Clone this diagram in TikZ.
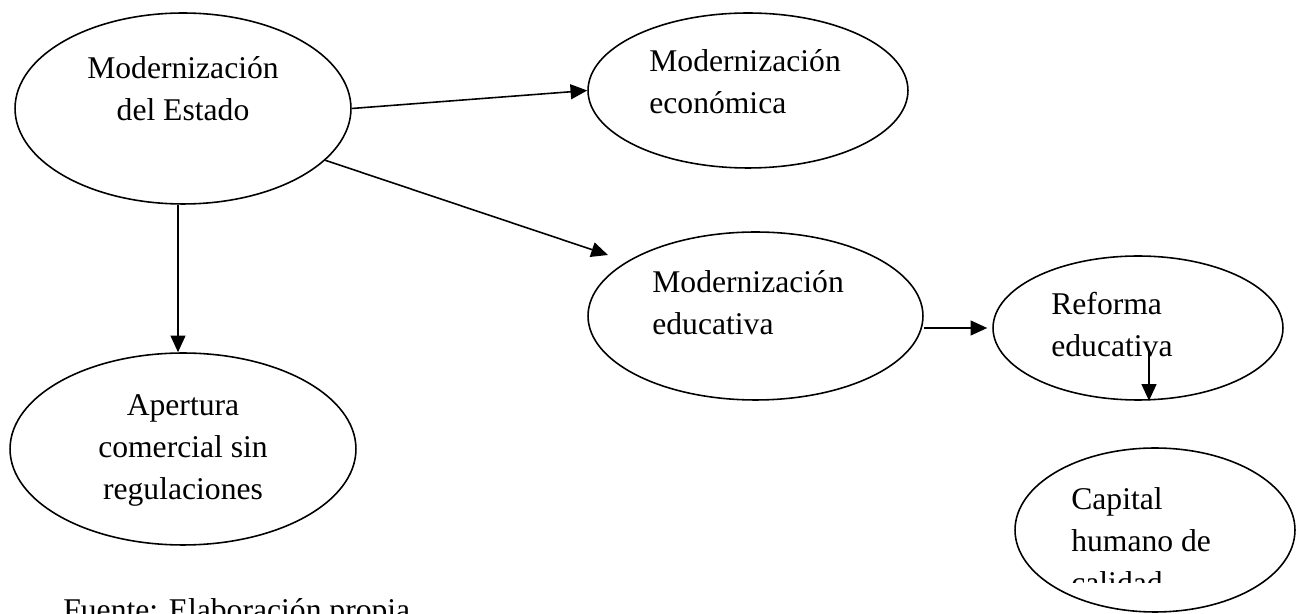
\documentclass[tikz,border=0pt]{standalone}
\usepackage{fontspec}
\setmainfont{Liberation Serif}
\usetikzlibrary{shapes,arrows.meta,positioning}

\begin{document}
\begin{tikzpicture}[x=0.02cm, y=-0.02cm]
    \tikzstyle{elipse} = [ellipse, draw, line width=0.9pt, inner sep=0pt]
    \tikzstyle{texto} = [inner sep=0pt, font=\fontsize{18}{24}\selectfont]
    \tikzstyle{arrow} = [line width=0.9pt,-{Triangle[length=9.5pt,width=8.5pt]}]

    \clip (0,0) rectangle (1296,614);

    % Modernizacion del Estado
    \node [elipse, minimum width=6.72cm, minimum height=3.82cm] (estado) at (183,108.5) {};
    \node [texto, align=center, anchor=base] (estadotxt) at (183,121) {Modernización\\del Estado};

    % Modernizacion economica
    \node [elipse, minimum width=6.4cm, minimum height=3.1cm] (economica) at (748,90.5) {};
    \node [texto, align=left, anchor=base west] (economicatxt) at (649,114) {Modernización\\económica};

    % Modernizacion educativa
    \node [elipse, minimum width=6.7cm, minimum height=3.36cm] (educativa) at (755.5,316) {};
    \node [texto, align=left, anchor=base west] (educativatxt) at (652,335) {Modernización\\educativa};

    % Reforma educativa
    \node [elipse, minimum width=5.8cm, minimum height=2.88cm] (reforma) at (1138,328) {};
    \node [texto, align=left, anchor=base west] (reformatxt) at (1051,357) {Reforma\\educativa};

    % Apertura comercial
    \node [elipse, minimum width=6.92cm, minimum height=3.84cm] (apertura) at (183,449) {};
    \node [texto, align=center, anchor=base] (aperturatxt) at (183,500) {Apertura\\comercial sin\\regulaciones};

    % Capital humano
    \node [elipse, minimum width=5.6cm, minimum height=3.28cm] (capital) at (1155,530) {};
    \begin{scope}
        \clip (1000,440) rectangle (1296,583);
        \node [texto, align=left, anchor=base west] (capitaltxt) at (1071,594) {Capital\\humano de\\calidad};
    \end{scope}

    % Fuente
    \node [texto, anchor=base west] (fuente) at (63,621) {Fuente: Elaboración propia};

    % Arrows
    \coordinate (flecha) at (1149,350);
    \coordinate (puntaedu) at (608,255);
    \draw [arrow] (estado.east) -- (economica.west);
    \draw [arrow] (estado.-20) -- (puntaedu);
    \draw [arrow] ([xshift=-0.1cm]estado.south) -- ([xshift=-0.1cm]apertura.north);
    \draw [arrow, shorten >=0.1cm] (educativa.east |- reforma.west) -- (reforma.west);
    \draw [arrow] (flecha) -- (flecha |- reforma.south);
\end{tikzpicture}
\end{document}
